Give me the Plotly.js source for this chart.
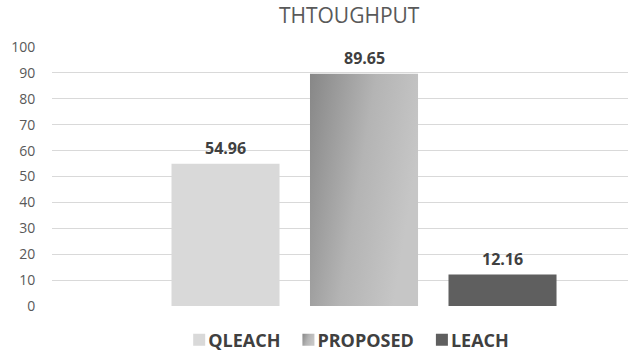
<!DOCTYPE html>
<html>
<head>
<meta charset="utf-8">
<script src="https://cdn.plot.ly/plotly-3.0.1.min.js"></script>
<style>
  html, body { margin: 0; padding: 0; background: #ffffff; }
  #chart { width: 628px; height: 354px; }
</style>
</head>
<body>
<div id="chart"></div>
<script>
// Throughput per protocol
const protocols = ['QLEACH', 'PROPOSED', 'LEACH'];
const throughput = [54.96, 89.65, 12.16];
const barColors = ['#d9d9d9', '#aaaaaa', '#5f5f5f'];
const yTicks = [0, 10, 20, 30, 40, 50, 60, 70, 80, 90, 100];

const FONT = '"Open Sans", "Noto Sans", sans-serif';

// One trace per protocol so each gets its own legend entry
const traces = protocols.map((name, i) => ({
  type: 'bar',
  name: name,
  x: [name],
  y: [throughput[i]],
  width: 0.78,
  marker: { color: barColors[i], line: { width: 0 } },
  hoverinfo: 'skip'
}));

// Value labels above each bar
const annotations = protocols.map((name, i) => ({
  x: name,
  y: throughput[i],
  xref: 'x',
  yref: 'y',
  text: throughput[i].toFixed(2),
  showarrow: false,
  yanchor: 'bottom',
  yshift: 3,
  font: { family: FONT, size: 16, color: '#404040', weight: 'bold' }
}));

const layout = {
  width: 628,
  height: 354,
  margin: { l: 52, r: 0, t: 47, b: 48, autoexpand: false },
  paper_bgcolor: '#ffffff',
  plot_bgcolor: '#ffffff',
  barmode: 'overlay',
  title: {
    text: 'THTOUGHPUT',
    x: 0.556,
    xref: 'container',
    xanchor: 'center',
    y: 0.955,
    yref: 'container',
    yanchor: 'middle',
    font: { family: FONT, size: 21, color: '#595959' }
  },
  xaxis: {
    type: 'category',
    categoryorder: 'array',
    categoryarray: protocols,
    range: [-1.2527, 2.906],
    showticklabels: false,
    showgrid: false,
    zeroline: false,
    showline: false,
    ticks: ''
  },
  yaxis: {
    range: [0, 100],
    tickvals: yTicks,
    ticktext: yTicks.map(String),
    showgrid: true,
    gridcolor: '#d9d9d9',
    gridwidth: 1,
    zeroline: false,
    showline: false,
    ticks: 'outside',
    ticklen: 13,
    tickcolor: 'rgba(0,0,0,0)',
    tickfont: { family: FONT, size: 14, color: '#595959' }
  },
  showlegend: true,
  legend: {
    orientation: 'h',
    x: 0.517,
    xanchor: 'center',
    y: -0.131,
    yanchor: 'middle',
    font: { family: FONT, size: 18, color: '#404040', weight: 'bold' },
    itemclick: false,
    itemdoubleclick: false
  },
  annotations: annotations
};

const NS = 'http://www.w3.org/2000/svg';

// Diagonal grey gradient for the PROPOSED bar and its legend swatch
function applyGradient(gd) {
  const svg = gd.querySelector('svg.main-svg');
  if (!svg) return;
  let defs = svg.querySelector('defs');
  if (!defs) { defs = document.createElementNS(NS, 'defs'); svg.insertBefore(defs, svg.firstChild); }
  if (!svg.querySelector('#proposedGrad')) {
    const g = document.createElementNS(NS, 'linearGradient');
    g.setAttribute('id', 'proposedGrad');
    g.setAttribute('x1', '0'); g.setAttribute('y1', '0');
    g.setAttribute('x2', '1'); g.setAttribute('y2', '0.35');
    [['0', '#878787'], ['0.55', '#b4b4b4'], ['1', '#c6c6c6']].forEach(([o, c]) => {
      const s = document.createElementNS(NS, 'stop');
      s.setAttribute('offset', o); s.setAttribute('stop-color', c);
      g.appendChild(s);
    });
    defs.appendChild(g);
  }
  const barTraces = gd.querySelectorAll('.barlayer .trace.bars');
  if (barTraces[1]) barTraces[1].querySelectorAll('path').forEach(p => { p.style.fill = 'url(#proposedGrad)'; });
  gd.querySelectorAll('.legend .traces').forEach(item => {
    const t = item.querySelector('text.legendtext');
    if (t && t.textContent === 'PROPOSED') {
      item.querySelectorAll('.legendpoints path').forEach(p => { p.style.fill = 'url(#proposedGrad)'; });
    }
  });
}

// Tighten the legend: label sits right next to its swatch, entries kept centred
function compactLegend(gd, centerX) {
  const items = Array.from(gd.querySelectorAll('.legend .traces'));
  if (!items.length) return;
  const parse = tr => {
    const m = /translate\(\s*([-\d.]+)[ ,]+([-\d.]+)\s*\)/.exec(tr || '');
    return m ? [parseFloat(m[1]), parseFloat(m[2])] : [0, 0];
  };
  const swatchRight = 26, textGap = 3, entryGap = 22, swatchLeft = 14;
  let cursor = parse(items[0].getAttribute('transform'))[0];
  const ys = items.map(it => parse(it.getAttribute('transform'))[1]);
  items.forEach((it, i) => {
    const t = it.querySelector('text.legendtext');
    t.setAttribute('x', swatchRight + textGap);
    const w = t.getComputedTextLength();
    it.setAttribute('transform', 'translate(' + cursor + ',' + ys[i] + ')');
    cursor += swatchRight + textGap + w + entryGap - swatchLeft;
  });
  // recentre
  const svgRect = gd.querySelector('svg.main-svg').getBoundingClientRect();
  let minX = Infinity, maxX = -Infinity;
  items.forEach(it => {
    const sw = it.querySelector('.legendpoints path');
    const t = it.querySelector('text.legendtext');
    const a = sw.getBoundingClientRect(), b = t.getBoundingClientRect();
    minX = Math.min(minX, a.left - svgRect.left);
    maxX = Math.max(maxX, b.right - svgRect.left);
  });
  const shift = centerX - (minX + maxX) / 2;
  items.forEach(it => {
    const p = parse(it.getAttribute('transform'));
    it.setAttribute('transform', 'translate(' + (p[0] + shift) + ',' + p[1] + ')');
  });
}

const gd = document.getElementById('chart');
Plotly.newPlot(gd, traces, layout, { displayModeBar: false, staticPlot: true })
  .then(() => { applyGradient(gd); compactLegend(gd, 351); });
</script>
</body>
</html>
